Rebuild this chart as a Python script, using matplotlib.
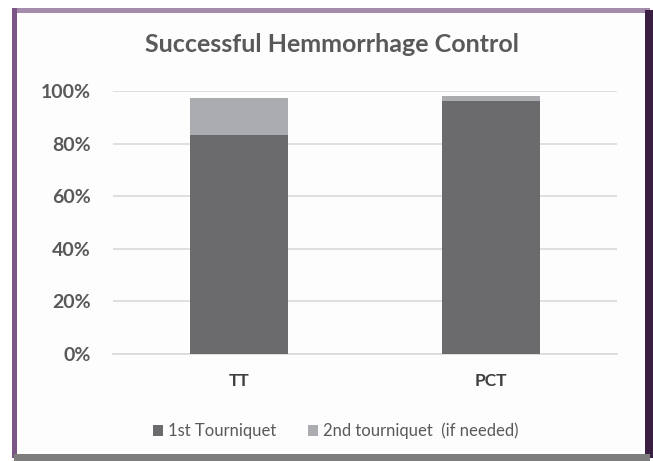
import matplotlib
matplotlib.use("Agg")
import matplotlib.pyplot as plt
from matplotlib.patches import Rectangle
from matplotlib.ticker import PercentFormatter

# data
groups = ["TT", "PCT"]
first_tq = [0.833, 0.962]
second_tq = [0.142, 0.020]
labels = ["1st Tourniquet", "2nd tourniquet  (if needed)"]
colors = ["#6b6b6e", "#abacaf"]
text_col = "#595959"

plt.rcParams["font.family"] = ["Lato", "DejaVu Sans"]

fig = plt.figure(figsize=(6.53, 4.61), dpi=100)
W, H = 653, 461

def px(x0, y0, x1, y1, color, z=0):
    # rectangle in pixel coords (top-left origin)
    fig.patches.append(Rectangle((x0 / W, 1 - y1 / H), (x1 - x0) / W, (y1 - y0) / H,
                                 transform=fig.transFigure, color=color, zorder=z, lw=0))

# card frame with shadow-ish borders
px(0, 0, W, H, "#ffffff")
px(12, 8, 650, 13, "#a58cad")
px(12, 8, 17, 458, "#7b5586")
px(645, 10, 653, 458, "#3a1f42")
px(14, 454, 650, 461, "#7d7d7d")
px(17, 13, 645, 454, "#fdfdfd", 1)

ax = fig.add_axes([113 / W, 1 - 354 / H, (617 - 113) / W, (354 - 91) / H])
ax.set_zorder(2)
ax.patch.set_alpha(0)

x = range(len(groups))
ax.bar(x, first_tq, 0.39, color=colors[0], label=labels[0], zorder=3)
ax.bar(x, second_tq, 0.39, bottom=first_tq, color=colors[1], label=labels[1], zorder=3)

ax.set_xlim(-0.5, 1.5)
ax.set_ylim(0, 1.0)
ax.set_yticks([0, 0.2, 0.4, 0.6, 0.8, 1.0])
ax.yaxis.set_major_formatter(PercentFormatter(1.0, decimals=0))
ax.grid(axis="y", color="#d9d9d9", lw=1.2, zorder=0)
ax.set_axisbelow(True)
for s in ax.spines.values():
    s.set_visible(False)
ax.spines["bottom"].set_visible(True)
ax.spines["bottom"].set_color("#d9d9d9")
ax.spines["bottom"].set_linewidth(1.2)
ax.tick_params(length=0)
ax.tick_params(axis="y", pad=16, labelsize=14, labelcolor=text_col)
ax.tick_params(axis="x", pad=14, labelsize=12.5, labelcolor="#404040")
for t in ax.get_yticklabels():
    t.set_fontweight("bold")
ax.set_xticks(list(x))
ax.set_xticklabels(groups, fontweight="bold")

fig.text(332 / W, 1 - 44 / H, "Successful Hemmorrhage Control", ha="center", va="center",
         fontsize=18, fontweight="bold", color=text_col, zorder=5)

leg = fig.legend(loc="center", bbox_to_anchor=(336 / W, 1 - 431 / H), ncol=2, frameon=False,
                 fontsize=12, handlelength=0.6, handleheight=0.6, columnspacing=1.9,
                 handletextpad=0.3)
for t in leg.get_texts():
    t.set_color(text_col)

fig.savefig("out.png", dpi=100)
